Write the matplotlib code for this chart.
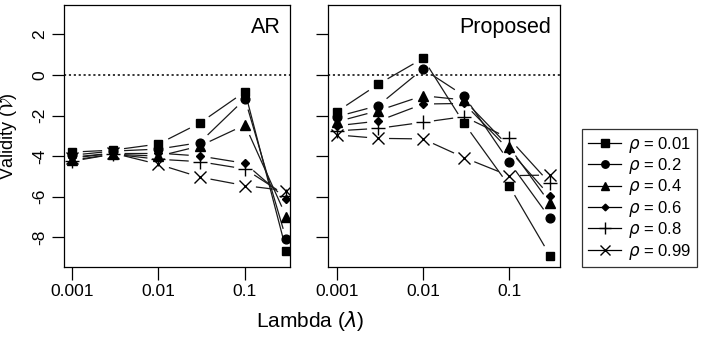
import numpy as np
import matplotlib
matplotlib.use("Agg")
import matplotlib.pyplot as plt
from matplotlib.lines import Line2D

plt.rcParams['font.family'] = ['Liberation Sans', 'DejaVu Sans']
plt.rcParams['mathtext.fontset'] = 'dejavusans'

lambdas = [0.001, 0.003, 0.01, 0.03, 0.1, 0.3]
rhos = ['0.01', '0.2', '0.4', '0.6', '0.8', '0.99']
markers = ['s', 'o', '^', 'D', '+', 'x']
msizes = [6, 6.3, 7, 4, 9.5, 8]

# validity, AR method, one row per rho
ar_vals = [
    [-3.80, -3.70, -3.40, -2.37, -0.82, -8.65],
    [-3.95, -3.75, -3.65, -3.33, -1.18, -8.10],
    [-4.20, -3.90, -4.00, -3.50, -2.46, -6.98],
    [-4.05, -3.85, -3.85, -3.99, -4.35, -6.12],
    [-4.25, -3.90, -4.15, -4.27, -4.63, -5.95],
    [-4.10, -3.85, -4.40, -5.03, -5.45, -5.70],
]

# validity, proposed method
prop_vals = [
    [-1.80, -0.46, 0.82, -2.38, -5.45, -8.90],
    [-2.05, -1.51, 0.30, -1.02, -4.27, -7.06],
    [-2.30, -1.76, -1.02, -1.23, -3.53, -6.32],
    [-2.50, -2.27, -1.43, -1.40, -3.69, -5.96],
    [-2.75, -2.63, -2.33, -2.05, -3.12, -5.34],
    [-2.95, -3.12, -3.15, -4.07, -4.96, -4.93],
]

W, H = 706, 337
YLIM = (-9.46, 3.45)
fig = plt.figure(figsize=(W / 100, H / 100), dpi=100)


def px_box(x0, x1, y0, y1):
    return [x0 / W, 1 - y1 / H, (x1 - x0) / W, (y1 - y0) / H]


def draw_b(ax, box, xl, xs, ys, marker, ms, gap=11.0):
    # R-style type="b": segments broken around each point (gap in pixels)
    pw, ph = box[1] - box[0], box[3] - box[2]
    sx = pw / (xl[1] - xl[0])
    sy = ph / (YLIM[1] - YLIM[0])
    lx = np.log10(xs) * sx
    ly = np.asarray(ys) * sy
    for i in range(len(xs) - 1):
        dx, dy = lx[i + 1] - lx[i], ly[i + 1] - ly[i]
        L = np.hypot(dx, dy)
        if L <= 2 * gap:
            continue
        ux, uy = dx / L, dy / L
        ax0, ay0 = lx[i] + ux * gap, ly[i] + uy * gap
        ax1_, ay1 = lx[i + 1] - ux * gap, ly[i + 1] - uy * gap
        ax.plot([10 ** (ax0 / sx), 10 ** (ax1_ / sx)], [ay0 / sy, ay1 / sy],
                color='#1a1a1a', lw=0.9, solid_capstyle='butt')
    fill = marker not in ('+', 'x')
    ax.plot(xs, ys, linestyle='none', marker=marker, ms=ms,
            color='black', mfc='black' if fill else 'none', mew=1.0)


panels = [
    (ar_vals, 'AR', (-3.09, -0.48), (64, 290, 5, 267)),
    (prop_vals, 'Proposed', (-3.105, -0.407), (328, 560, 5, 267)),
]
axes = []
for vals, name, xl, box in panels:
    ax = fig.add_axes(px_box(*box))
    axes.append(ax)
    ax.set_xscale('log')
    ax.set_xlim(10 ** xl[0], 10 ** xl[1])
    ax.set_ylim(*YLIM)
    ax.axhline(0, color='black', lw=1.1, ls=(0, (1.4, 1.8)))
    for v, m, s in zip(vals, markers, msizes):
        draw_b(ax, box, xl, lambdas, v, m, s)
    ax.set_xticks([0.001, 0.01, 0.1])
    ax.set_xticklabels(['0.001', '0.01', '0.1'])
    ax.minorticks_off()
    ax.set_yticks([-8, -6, -4, -2, 0, 2])
    ax.tick_params(direction='out', length=9, width=0.9, labelsize=12.5,
                   pad=3)
    for sp in ax.spines.values():
        sp.set_linewidth(0.9)
    ax.text(0.96, 0.955, name, transform=ax.transAxes, ha='right', va='top',
            fontsize=15.5)

axes[0].set_yticklabels(['-8', '-6', '-4', '-2', '0', '2'], rotation=90,
                        va='center')
axes[1].set_yticklabels([])

fig.text(9 / W, 1 - 136 / H, 'Validity ($\\mathcal{V}$)', rotation=90,
         ha='center', va='center', fontsize=13)
fig.text(310 / W, 1 - 321 / H, 'Lambda ($\\lambda$)', ha='center',
         va='center', fontsize=15)

handles = [Line2D([], [], color='black', lw=0.9, marker=m, ms=s * 0.85,
                  mfc='black' if m not in ('+', 'x') else 'none')
           for m, s in zip(markers, msizes)]
labels = ['$\\rho$ = ' + r for r in rhos]
leg = fig.legend(handles, labels, loc='upper left',
                 bbox_to_anchor=(582 / W, 1 - 129 / H), fontsize=12,
                 frameon=True, fancybox=False, edgecolor='black',
                 handlelength=2.0, handletextpad=0.4, labelspacing=0.08,
                 borderpad=0.35, borderaxespad=0)
leg.get_frame().set_linewidth(0.9)

fig.savefig('out.png', dpi=100)
